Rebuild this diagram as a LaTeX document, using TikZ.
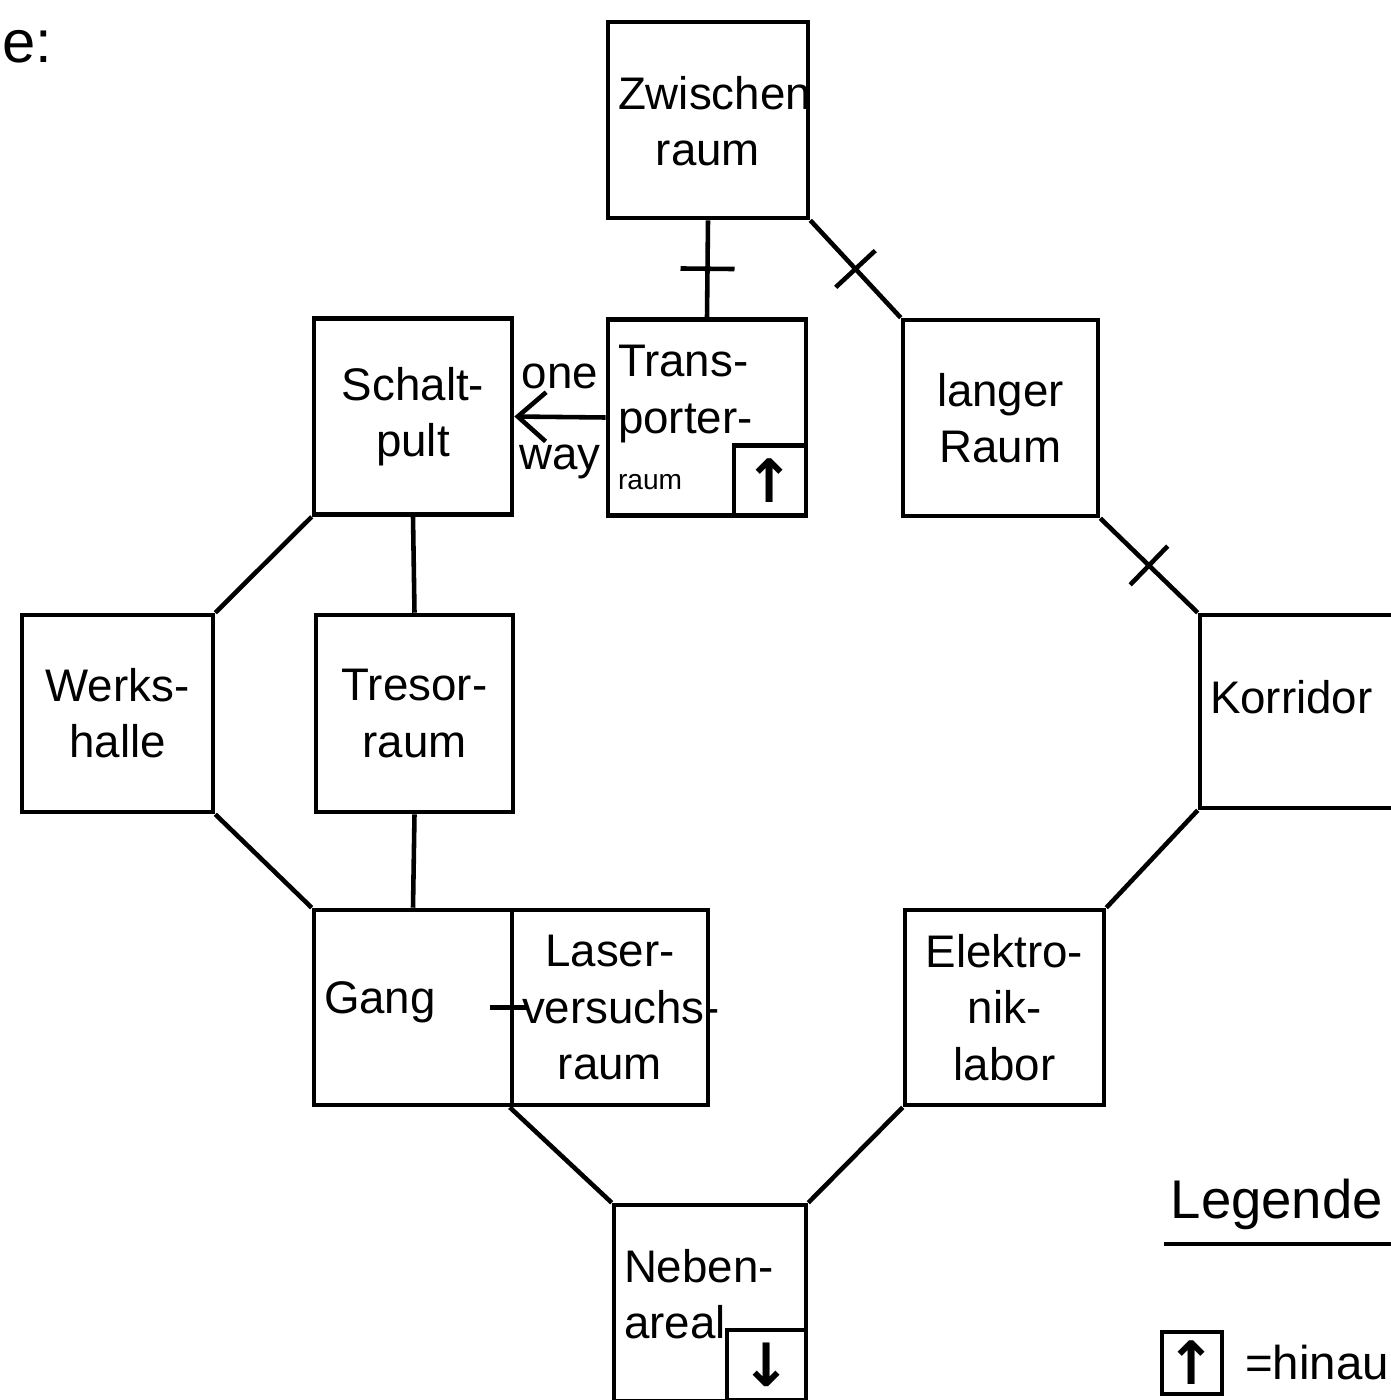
\documentclass[tikz,border=0pt]{standalone}
\usepackage{fontspec}
\setmainfont{Liberation Sans}
\newfontfamily\symfont{DejaVu Sans}
\usetikzlibrary{positioning,calc,arrows.meta,decorations.markings}

\begin{document}
\begin{tikzpicture}[
    x=1cm, y=1cm,
    room/.style={rectangle, draw, line width=1.3pt, text width=1.78cm, minimum height=1.96cm, inner sep=0.1cm, align=center, font=\fontsize{13}{16}\selectfont},
    liftbox/.style={rectangle, draw, line width=1.3pt, minimum width=0.72cm, minimum height=0.7cm, inner sep=0pt, font=\symfont\bfseries\fontsize{17}{17}\selectfont},
    link/.style={line width=1.3pt},
    door/.style={link, postaction={decorate}, decoration={markings, mark=at position 0.5 with {\draw[line width=1.3pt] (0,-0.27) -- (0,0.27);}}},
    oneway/.style={link, ->, >={Straight Barb[length=8pt,width=14pt,line width=1.3pt]}},
    note/.style={font=\fontsize{13}{15}\selectfont}
]
\useasboundingbox (0,0) rectangle (13.9,-14);

% Rooms, top to bottom
\node[room, text width=1.8cm, text depth=0.55cm] (zwischen) at (7.08,-1.20) {\mbox{Zwischen}\\raum};
\node[room, align=left] (trans) at (7.07,-4.175) {\mbox{Trans-}\\\mbox{porter-}\\{\footnotesize raum}};
\node[liftbox, anchor=south east] (translift) at (trans.south east) {↑};
\node[room] (schalt) at (4.13,-4.165) {\mbox{Schalt-}\\pult};
\node[room, text width=1.75cm] (langer) at (10.005,-4.18) {langer\\Raum};

\node[room, text width=1.71cm, minimum height=1.97cm] (werks) at (1.175,-7.135) {\mbox{Werks-}\\halle};
\node[room, text width=1.77cm, minimum height=1.97cm] (tresor) at (4.145,-7.135) {\mbox{Tresor-}\\raum};
\node[room, text width=1.9cm, align=left, minimum height=1.93cm, text depth=0.3cm] (korridor) at (13.05,-7.115) {Korridor};

\node[room, align=left, minimum height=1.95cm, text depth=0.2cm] (gang) at (4.13,-10.075) {Gang};
\node[room, text width=1.76cm, minimum height=1.95cm] (laser) at (6.10,-10.075) {\mbox{Laser-}\\\mbox{versuchs-}\\raum};
\node[room, text width=1.79cm, minimum height=1.95cm] (elektro) at (10.045,-10.075) {\mbox{Elektro-}\\\mbox{nik-}\\labor};

\node[room, text width=1.72cm, align=left, text depth=0.75cm] (neben) at (7.10,-13.03) {\mbox{Neben-}\\areal};
\node[liftbox, anchor=north east, minimum width=0.79cm] (nebenlift) at ([yshift=-1.25cm]neben.north east) {↓};

% Connectors
\draw[door] (zwischen.south) -- (trans.north);
\draw[door] (zwischen.south east) -- (langer.north west);
\draw[oneway] (trans.west) -- (schalt.east)
    node[midway, above=4pt, note] {one}
    node[midway, below=4pt, note] {way};
\draw[link] (schalt.south west) -- (werks.north east);
\draw[link] (schalt.south) -- (tresor.north);
\draw[door] (langer.south east) -- (korridor.north west);
\draw[link] (werks.south east) -- (gang.north west);
\draw[link] (tresor.south) -- (gang.north);
\draw[link] (korridor.south west) -- (elektro.north east);
\draw[link] ([xshift=-0.2cm]laser.west) -- ([xshift=0.18cm]laser.west);
\draw[link] (laser.south west) -- (neben.north west);
\draw[link] (elektro.south west) -- (neben.north east);

% Legend
\node[anchor=west, font=\fontsize{17}{17}\selectfont, inner sep=0pt] (heading) at (0.02,-0.47) {e:};
\node[anchor=south west, font=\fontsize{15.5}{16}\selectfont, inner sep=0pt] (legende) at (11.70,-12.30) {Legende};
\draw[link] ([xshift=-0.06cm,yshift=-0.14cm]legende.south west) -- ([xshift=0.1cm,yshift=-0.14cm]legende.south east);
\node[liftbox, minimum width=0.6cm, minimum height=0.62cm] (legendlift) at (11.92,-13.63) {↑};
\node[anchor=west, font=\fontsize{13.5}{14}\selectfont, inner sep=0pt] (hinauf) at ([xshift=0.2cm]legendlift.east) {=hinau};

\end{tikzpicture}
\end{document}
